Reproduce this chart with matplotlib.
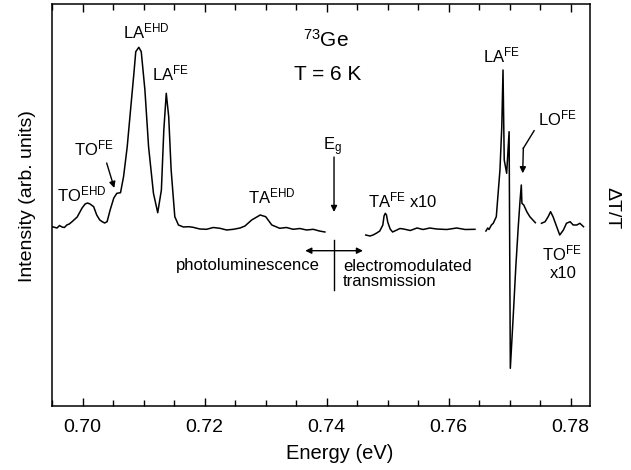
import matplotlib
matplotlib.use("Agg")
import matplotlib.pyplot as plt
from matplotlib.ticker import MultipleLocator

plt.rcParams["font.family"] = ["Liberation Sans", "DejaVu Sans"]
plt.rcParams["mathtext.fontset"] = "custom"
plt.rcParams["mathtext.rm"] = "Liberation Sans"
plt.rcParams["mathtext.it"] = "Liberation Sans:italic"

# photoluminescence spectrum (energy in eV, intensity arb. units)
pl_energy = [0.6950, 0.6958, 0.6962, 0.6966, 0.6970, 0.6974, 0.6978, 0.6982, 0.6991,
             0.6999, 0.7004, 0.7008, 0.7012, 0.7018, 0.7023, 0.7028, 0.7032, 0.7036,
             0.7040, 0.7045, 0.7051, 0.7056, 0.7062, 0.7067, 0.7073, 0.7078, 0.7084,
             0.7087, 0.7092, 0.7096, 0.7102, 0.7108, 0.7116, 0.7123, 0.7129, 0.7133,
             0.7137, 0.7141, 0.7145, 0.7151, 0.7157, 0.7165, 0.7174, 0.7181, 0.7192,
             0.7203, 0.7214, 0.7225, 0.7236, 0.7247, 0.7258, 0.7266, 0.7277, 0.7291,
             0.7300, 0.7310, 0.7323, 0.7334, 0.7345, 0.7356, 0.7367, 0.7378, 0.7388,
             0.7397]
pl_intensity = [179.3, 178.0, 180.5, 179.0, 178.5, 181.0, 182.0, 184.0, 189.0,
                198.0, 202.0, 203.0, 202.0, 199.3, 191.0, 186.0, 184.3, 183.0,
                184.3, 196.0, 208.0, 212.7, 213.3, 229.3, 259.3, 293.0, 333.0,
                354.3, 358.7, 354.3, 316.0, 259.3, 212.7, 193.3, 216.0, 276.0,
                312.7, 289.3, 236.0, 189.3, 181.0, 179.0, 179.3, 178.7, 177.0,
                176.7, 178.5, 177.7, 176.0, 176.7, 178.0, 180.0, 186.0, 191.0,
                189.3, 181.0, 177.7, 178.5, 176.7, 177.5, 176.0, 176.7, 175.0,
                174.0]

# electromodulated transmission, TA(FE) x10
ta_energy = [0.7464, 0.7471, 0.7476, 0.7482, 0.7487, 0.7492, 0.7494, 0.7496, 0.7498,
             0.7500, 0.7504, 0.7508, 0.7515, 0.7520, 0.7526, 0.7537, 0.7548, 0.7558,
             0.7569, 0.7580, 0.7597, 0.7613, 0.7627, 0.7643]
ta_signal = [171.0, 170.0, 171.0, 173.0, 175.0, 181.0, 190.0, 192.7, 191.0,
             184.0, 177.0, 174.0, 176.0, 177.5, 177.0, 175.5, 178.0, 176.5,
             178.0, 177.0, 176.5, 178.0, 176.5, 176.7]

# electromodulated transmission, LA(FE) / LO(FE)
la_energy = [0.7661, 0.7664, 0.7666, 0.7670, 0.7673, 0.7678, 0.7681, 0.7684, 0.7687,
             0.7689, 0.7691, 0.7695, 0.7699, 0.7701, 0.7706, 0.7710, 0.7714, 0.7717,
             0.7719, 0.7720, 0.7723, 0.7728, 0.7733, 0.7739, 0.7742]
la_signal = [175.0, 178.0, 176.5, 181.0, 182.7, 189.3, 212.7, 236.0, 279.3,
             336.0, 246.0, 232.7, 274.3, 37.7, 92.7, 139.3, 179.3, 206.0,
             221.0, 202.7, 201.0, 194.3, 189.3, 185.3, 183.3]

# electromodulated transmission, TO(FE) x10
to_energy = [0.7752, 0.7758, 0.7763, 0.7767, 0.7771, 0.7777, 0.7782, 0.7788, 0.7793,
             0.7799, 0.7804, 0.7810, 0.7815, 0.7821]
to_signal = [182.7, 184.3, 189.3, 194.3, 189.3, 179.3, 171.0, 176.0, 182.7,
             184.3, 181.0, 181.0, 182.7, 179.3]

fig = plt.figure(figsize=(6.31, 4.70), dpi=100)
ax = fig.add_axes([52 / 631, 1 - 406 / 470, 538 / 631, 402 / 470])

for xs, ys in [(pl_energy, pl_intensity), (ta_energy, ta_signal),
               (la_energy, la_signal), (to_energy, to_signal)]:
    ax.plot(xs, ys, color="black", lw=1.1)

ax.set_xlim(0.69497, 0.78316)
ax.set_ylim(0, 402)
ax.xaxis.set_major_locator(MultipleLocator(0.02))
ax.xaxis.set_minor_locator(MultipleLocator(0.005))
ax.xaxis.set_major_formatter(plt.FuncFormatter(lambda v, p: f"{v:.2f}"))
ax.tick_params(axis="x", which="both", direction="in", top=True, labelsize=14,
               pad=9, width=1.0)
ax.tick_params(axis="x", which="major", length=6)
ax.tick_params(axis="x", which="minor", length=4)
ax.set_yticks([])
for s in ax.spines.values():
    s.set_linewidth(1.1)

ax.set_xlabel("Energy (eV)", fontsize=14.5)
ax.xaxis.set_label_coords(0.534, -0.094)
ax.set_ylabel("Intensity (arb. units)", fontsize=14)
ax.yaxis.set_label_coords(-0.03, 0.522)
ax.text(1.041, 0.4925, "ΔT/T", transform=ax.transAxes, rotation=-90,
        ha="center", va="center", fontsize=14)

fs = 12
ax.text(0.71046, 368, "LA$^{\\rm EHD}$", ha="center", va="baseline", fontsize=fs)
ax.text(0.71431, 326, "LA$^{\\rm FE}$", ha="center", va="baseline", fontsize=fs)
ax.text(0.70177, 251, "TO$^{\\rm FE}$", ha="center", va="baseline", fontsize=fs)
ax.annotate("", xy=(0.70518, 218), xytext=(0.70393, 243),
            arrowprops=dict(arrowstyle="-|>", color="black", lw=1.0,
                            mutation_scale=9, shrinkA=0, shrinkB=0))
ax.text(0.69989, 205, "TO$^{\\rm EHD}$", ha="center", va="baseline", fontsize=fs)
ax.text(0.73095, 203, "TA$^{\\rm EHD}$", ha="center", va="baseline", fontsize=fs)

ax.text(0.73989, 359, "$^{\\rm 73}$Ge", ha="center", va="baseline", fontsize=15)
ax.text(0.74013, 326, "T = 6 K", ha="center", va="baseline", fontsize=15)
ax.text(0.74103, 256, "E$_{\\rm g}$", ha="center", va="baseline", fontsize=fs)
ax.annotate("", xy=(0.7412, 194), xytext=(0.7412, 249),
            arrowprops=dict(arrowstyle="-|>", color="black", lw=1.0,
                            mutation_scale=9, shrinkA=0, shrinkB=0))

ax.annotate("", xy=(0.73648, 155.3), xytext=(0.74595, 155.3),
            arrowprops=dict(arrowstyle="<|-|>", color="black", lw=1.0,
                            mutation_scale=9, shrinkA=0, shrinkB=0))
ax.plot([0.7412, 0.7412], [166, 116], color="black", lw=1.0)
ax.text(0.73892, 136, "photoluminescence", ha="right", va="baseline", fontsize=fs)
ax.text(0.74267, 135, "electromodulated", ha="left", va="baseline", fontsize=fs)
ax.text(0.74267, 120, "transmission", ha="left", va="baseline", fontsize=fs)

ax.text(0.74677, 199, "TA$^{\\rm FE}$ x10", ha="left", va="baseline", fontsize=fs)
ax.text(0.76866, 344, "LA$^{\\rm FE}$", ha="center", va="baseline", fontsize=fs)
ax.text(0.77784, 281, "LO$^{\\rm FE}$", ha="center", va="baseline", fontsize=fs)
ax.plot([0.77400, 0.77223], [275.3, 257.7], color="black", lw=1.0)
ax.annotate("", xy=(0.77213, 232.7), xytext=(0.77223, 258.2),
            arrowprops=dict(arrowstyle="-|>", color="black", lw=1.0,
                            mutation_scale=9, shrinkA=0, shrinkB=0))
ax.text(0.77849, 146, "TO$^{\\rm FE}$", ha="center", va="baseline", fontsize=fs)
ax.text(0.77882, 128, "x10", ha="center", va="baseline", fontsize=fs)

fig.savefig("out.png", dpi=100)
